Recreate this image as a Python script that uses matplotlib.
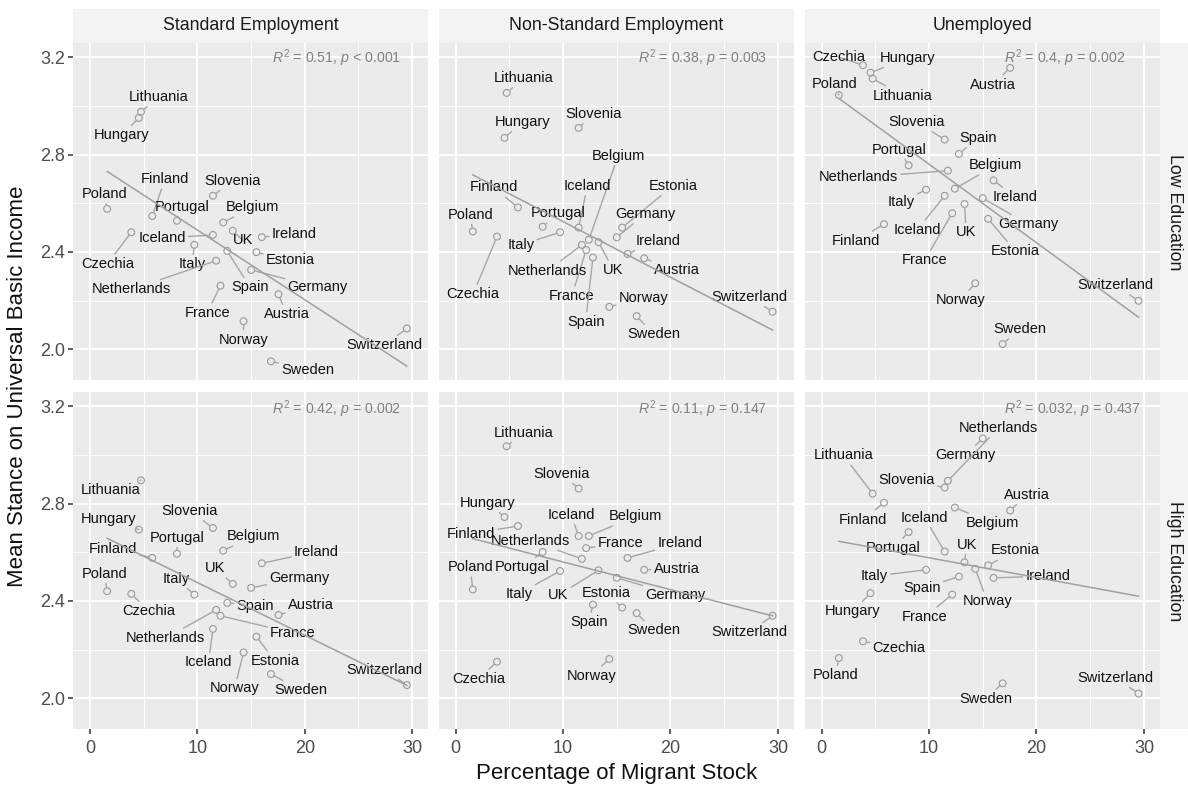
import numpy as np
import matplotlib.pyplot as plt
from matplotlib.patches import Rectangle

plt.rcParams['font.family'] = ['Liberation Sans', 'DejaVu Sans']
plt.rcParams['mathtext.fontset'] = 'custom'
plt.rcParams['mathtext.rm'] = 'Liberation Sans'
plt.rcParams['mathtext.it'] = 'Liberation Sans:italic'

# ---- data ----
countries = ['Austria', 'Belgium', 'Czechia', 'Estonia', 'Finland', 'France', 'Germany',
             'Hungary', 'Iceland', 'Ireland', 'Italy', 'Lithuania', 'Netherlands', 'Norway',
             'Poland', 'Portugal', 'Slovenia', 'Spain', 'Sweden', 'Switzerland', 'UK']
migrant = [17.55, 12.4, 3.85, 15.5, 5.8, 12.15, 15.0,
           4.55, 11.45, 16.0, 9.72, 4.75, 11.75, 14.3,
           1.6, 8.1, 11.45, 12.78, 16.85, 29.5, 13.3]

employment = ['Standard Employment', 'Non-Standard Employment', 'Unemployed']
education = ['Low Education', 'High Education']

std_low = [2.226, 2.521, 2.481, 2.399, 2.548, 2.261, 2.326,
           2.951, 2.470, 2.461, 2.429, 2.976, 2.364, 2.115,
           2.577, 2.528, 2.631, 2.404, 1.950, 2.085, 2.487]
nonstd_low = [2.374, 2.450, 2.463, 2.500, 2.583, 2.408, 2.460,
              2.869, 2.500, 2.392, 2.481, 3.054, 2.429, 2.174,
              2.484, 2.504, 2.910, 2.377, 2.136, 2.154, 2.440]
unemp_low = [3.157, 2.660, 3.168, 2.536, 2.514, 2.559, 2.621,
             3.137, 2.631, 2.694, 2.656, 3.113, 2.734, 2.271,
             3.045, 2.756, 2.862, 2.803, 2.021, 2.199, 2.597]
std_high = [2.342, 2.607, 2.429, 2.253, 2.577, 2.339, 2.454,
            2.693, 2.285, 2.555, 2.426, 2.896, 2.363, 2.188,
            2.440, 2.594, 2.700, 2.392, 2.099, 2.054, 2.470]
nonstd_high = [2.528, 2.667, 2.150, 2.373, 2.708, 2.617, 2.495,
               2.745, 2.667, 2.577, 2.523, 3.036, 2.573, 2.161,
               2.447, 2.601, 2.862, 2.385, 2.350, 2.339, 2.526]
unemp_high = [2.772, 2.784, 2.234, 2.546, 2.804, 2.426, 3.068,
              2.432, 2.603, 2.495, 2.528, 2.841, 2.894, 2.532,
              2.165, 2.683, 2.866, 2.500, 2.061, 2.019, 2.559]

stats_text = [['$R^2$ = 0.51, $p$ < 0.001', '$R^2$ = 0.38, $p$ = 0.003', '$R^2$ = 0.4, $p$ = 0.002'],
              ['$R^2$ = 0.42, $p$ = 0.002', '$R^2$ = 0.11, $p$ = 0.147', '$R^2$ = 0.032, $p$ = 0.437']]

stance = [[std_low, nonstd_low, unemp_low],
          [std_high, nonstd_high, unemp_high]]

# label offsets from the point, in pixels (repel positions)
offsets = [
    [  # low education
        [(8, -20), (29, 15.3), (-24, -31.7), (34, -8.3), (12.7, 36.7), (-13.3, -27), (66.7, -17.3),
         (-17.3, -17.3), (-51, -3.3), (32.3, 3.3), (-2.3, -19.3), (17.3, 15), (-84.7, -28.7), (0, -18.3),
         (-3, 15), (5, 13.7), (19.7, 15), (22.7, -36.3), (36.7, -8.3), (-22.7, -16.7), (10, -9.7)],
        [(32.3, -12), (29.3, 84), (-24, -57.7), (50.7, 41.7), (-24.3, 20), (-14.3, -45.7), (28.3, 23.3),
         (17.7, 16), (8.7, 41.7), (30.7, 12.7), (-39.3, -12.7), (16.7, 15), (-34.3, -26), (34.3, 9.3),
         (-2.7, 16.7), (16, 13.3), (15, 14), (-7.3, -64), (16.7, -18), (-23.3, 15), (15, -27.7)],
        [(-17.3, -16.7), (40.7, 23.3), (-24, 8), (27.3, -32.3), (-27.7, -16.7), (-27.3, -46.7), (45.3, -26),
         (37.3, 15), (-27.3, -34), (21.7, -16.7), (-25, -12.7), (30, -17), (-89.3, -6.7), (-15, -16.7),
         (-4, 11.3), (-9.7, 15.7), (-28.3, 17.7), (18.7, 16), (17.3, 15), (-23.3, 15.7), (1.7, -28.3)],
    ],
    [  # high education
        [(32.3, 10.3), (30.7, 14.3), (17.3, -17.3), (18.3, -24), (-39.7, 9), (72.3, -17.3), (48.3, 9.7),
         (-30, 11), (-4.4, -33.3), (54.7, 11.7), (-18.3, 15.7), (-30, -10), (-50.3, -28), (-9, -36),
         (-3, 17.3), (0.3, 16), (-23, 17), (28.3, -2.7), (30, -16), (-22.7, 15.3), (-17.7, 15.7)],
        [(32.3, 1), (46.7, 19.7), (-18.3, -17.3), (-16, 14.3), (-47, -7.7), (34.3, 5.3), (58.7, -17.3),
         (-16.7, 14.3), (-7.7, 21.3), (52.3, 14.7), (-41, -22.7), (16.7, 13.7), (-51.7, 18.3), (-18, -16.7),
         (-2.7, 22.3), (-20.3, -15), (-17.3, 15), (-4, -17.7), (16.7, -17.3), (-23.3, -16.7), (-40.3, -25)],
        [(16.7, 15.7), (37.3, -15.3), (36, -7), (26.7, 15), (-21, -17), (-27.3, -22), (-17.7, -16.7),
         (-17.7, -18.3), (-20, 33.7), (54.3, 1.7), (-51.7, -6.3), (-29.3, 38.3), (51, 53), (12, -32.3),
         (-3.3, -17), (-15, -16), (-38, 8), (-36.7, -11.7), (-17.3, -15.7), (-23.3, 16), (2.3, 17.3)],
    ],
]

# ---- layout ----
W, H = 1188, 785
fig = plt.figure(figsize=(W / 100, H / 100), dpi=100)

col_left = [73.3, 439, 805]
panel_w = 354.7
row_top = [43.3, 392.3]
panel_h = 337
stats_y = [0.956, 0.951]

strip_col = '#F3F3F3'
grey_pt = '#999999'

x = np.array(migrant)
for r in range(2):
    for c in range(3):
        ax = fig.add_axes([col_left[c] / W, 1 - (row_top[r] + panel_h) / H, panel_w / W, panel_h / H])
        ax.set_facecolor('#EBEBEB')
        for s in ax.spines.values():
            s.set_visible(False)
        ax.set_xlim(-1.55, 31.47)
        ax.set_ylim(1.872, 3.258)
        ax.set_xticks([0, 10, 20, 30])
        ax.set_xticks([5, 15, 25], minor=True)
        ax.set_yticks([2.0, 2.4, 2.8, 3.2])
        ax.set_yticks([2.2, 2.6, 3.0], minor=True)
        ax.grid(which='major', color='white', linewidth=1.4)
        ax.grid(which='minor', color='white', linewidth=0.7)
        ax.set_axisbelow(True)
        ax.tick_params(which='minor', length=0)
        ax.tick_params(which='major', color='#333333', width=1.1, length=3.5,
                       labelsize=13, labelcolor='#4D4D4D', pad=2.5)
        ax.tick_params(axis='x', pad=4)
        ax.set_yticklabels(['2.0', '2.4', '2.8', '3.2'])
        if c != 0:
            ax.tick_params(axis='y', length=0, labelleft=False)
        if r != 1:
            ax.tick_params(axis='x', length=0, labelbottom=False)

        y = np.array(stance[r][c])
        ax.scatter(x, y, s=24, facecolors='none', edgecolors=grey_pt, linewidths=0.8, zorder=3)

        slope, icpt = np.polyfit(x, y, 1)
        xs = np.array([x.min(), x.max()])
        ax.plot(xs, icpt + slope * xs, color='#A0A0A0', linewidth=1.1, zorder=5)

        for i, name in enumerate(countries):
            dx, dy = offsets[r][c][i]
            ax.annotate(name, (x[i], y[i]), xytext=(dx, dy), textcoords='offset pixels',
                        ha='center', va='center', fontsize=10.5, color='#111111', zorder=4,
                        arrowprops=dict(arrowstyle='-', color='#A6A6A6', lw=1.0,
                                        shrinkA=0, shrinkB=2.6))

        ax.text(0.56, stats_y[r], stats_text[r][c], transform=ax.transAxes, ha='left', va='center',
                fontsize=10.2, color='#808080', zorder=6)

# top strips
for c in range(3):
    fig.patches.append(Rectangle((col_left[c] / W, 1 - 43.3 / H), panel_w / W, 34.3 / H,
                                 transform=fig.transFigure, facecolor=strip_col, edgecolor='none'))
    fig.text((col_left[c] + panel_w / 2) / W, 1 - 26 / H, employment[c], ha='center', va='center',
             fontsize=12.8, color='#1A1A1A')

# right strips
for r in range(2):
    x0 = col_left[2] + panel_w
    fig.patches.append(Rectangle((x0 / W, 1 - (row_top[r] + panel_h) / H), (W - x0) / W, panel_h / H,
                                 transform=fig.transFigure, facecolor=strip_col, edgecolor='none'))
    fig.text(1174 / W, 1 - (row_top[r] + panel_h / 2) / H, education[r], ha='center', va='center',
             rotation=-90, fontsize=12.8, color='#1A1A1A')

fig.text(616.5 / W, 1 - 773 / H, 'Percentage of Migrant Stock', ha='center', va='center',
         fontsize=16, color='#111111')
fig.text(18 / W, 1 - 386.7 / H, 'Mean Stance on Universal Basic Income', ha='center', va='center',
         rotation=90, fontsize=16, color='#111111')

fig.savefig('out.png', dpi=100)
